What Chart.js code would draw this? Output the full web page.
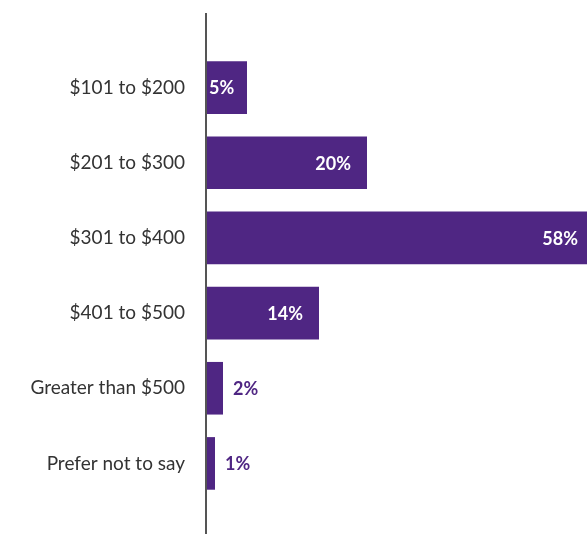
<!DOCTYPE html>
<html>
<head>
<meta charset="utf-8">
<script src="https://cdn.jsdelivr.net/npm/chart.js@4"></script>
<style>
  html, body { margin: 0; padding: 0; background: #fff; }
  #wrap { width: 587px; height: 534px; position: relative; }
</style>
</head>
<body>
<div id="wrap"><canvas id="budgetChart"></canvas></div>
<script>
// === DATA ===
const categories = ["$101 to $200", "$201 to $300", "$301 to $400", "$401 to $500", "Greater than $500", "Prefer not to say"];
const shares = [5, 20, 58, 14, 2, 1];

const PURPLE = "#4f2683";
const FONT = "Lato, 'Noto Sans', sans-serif";

// === AXIS LINE (runs past the bars top and bottom) ===
const axisLine = {
  id: "axisLine",
  afterDraw(chart) {
    const { ctx, chartArea } = chart;
    ctx.save();
    ctx.strokeStyle = "#555";
    ctx.lineWidth = 2;
    ctx.beginPath();
    ctx.moveTo(chartArea.left - 1, chartArea.top - 37);
    ctx.lineTo(chartArea.left - 1, chart.height);
    ctx.stroke();
    ctx.restore();
  },
};

// === VALUE LABELS ===
const valueLabels = {
  id: "valueLabels",
  afterDatasetsDraw(chart) {
    const { ctx, chartArea } = chart;
    const meta = chart.getDatasetMeta(0);
    ctx.save();
    ctx.font = "bold 18px " + FONT;
    ctx.textBaseline = "middle";
    meta.data.forEach((bar, i) => {
      const v = shares[i];
      const text = v + "%";
      const w = ctx.measureText(text).width;
      if (v >= 5) {
        const clipped = bar.x > chartArea.right;
        const end = Math.min(bar.x, chartArea.right);
        let x = end - (clipped ? 9 : 16) - w;
        if (x < bar.base + 2) x = bar.base + 2;
        ctx.fillStyle = "#fff";
        ctx.textAlign = "left";
        ctx.fillText(text, x, bar.y + 1);
      } else {
        ctx.fillStyle = PURPLE;
        ctx.textAlign = "left";
        ctx.fillText(text, bar.x + 10, bar.y + 1);
      }
    });
    ctx.restore();
  },
};

// === CHART ===
const ctx = document.getElementById("budgetChart").getContext("2d");
new Chart(ctx, {
  type: "bar",
  data: {
    labels: categories,
    datasets: [
      {
        data: shares,
        backgroundColor: PURPLE,
        barPercentage: 0.7,
        categoryPercentage: 1,
      },
    ],
  },
  plugins: [axisLine, valueLabels],
  options: {
    indexAxis: "y",
    responsive: true,
    maintainAspectRatio: false,
    animation: false,
    layout: { padding: { top: 50, bottom: 33, left: 0, right: 0 } },
    plugins: {
      legend: { display: false },
      tooltip: { enabled: false },
    },
    scales: {
      x: {
        display: false,
        min: 0,
        max: 47.5,
      },
      y: {
        grid: { display: false },
        border: { display: false },
        ticks: {
          color: "#333",
          padding: 14,
          font: { family: FONT, size: 19 },
        },
        afterFit(scale) {
          scale.width = 207;
        },
      },
    },
  },
});
</script>
</body>
</html>
